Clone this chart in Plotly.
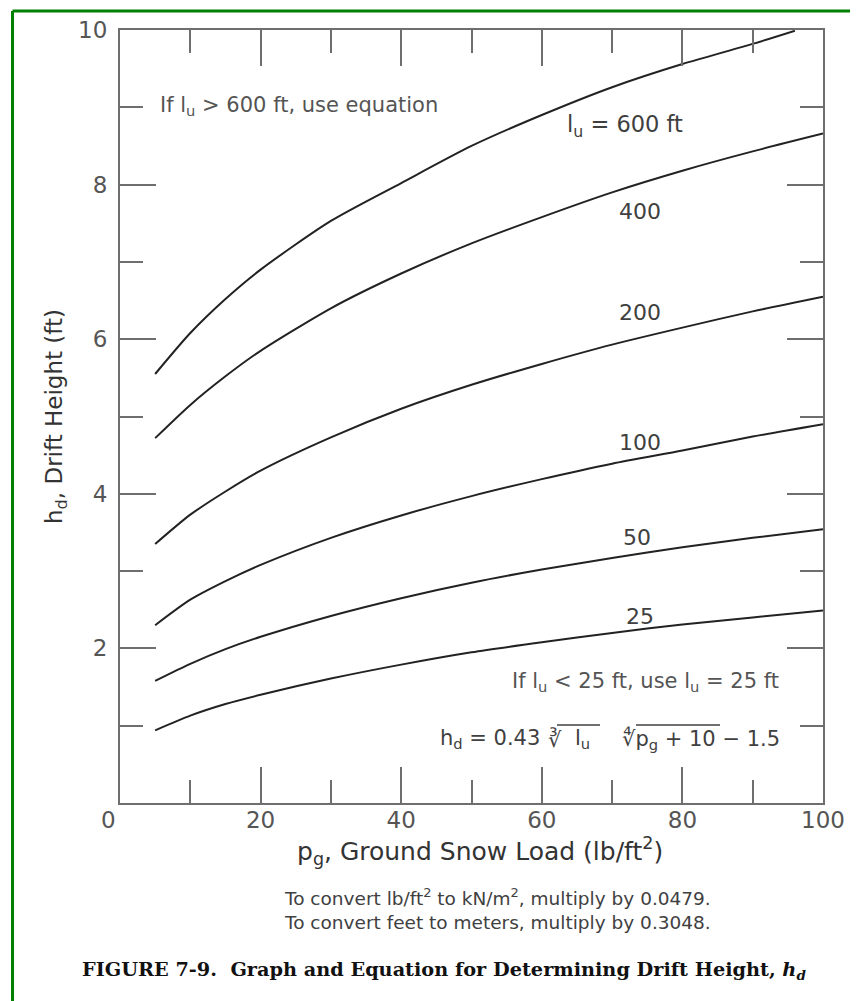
import plotly.graph_objects as go

# ---- data ----
pg = [5, 10, 15, 20, 30, 40, 50, 60, 70, 80, 90, 100]
pg_600 = [5, 10, 15, 20, 30, 40, 50, 60, 70, 80, 90, 96]
hd_600 = [5.55, 6.08, 6.52, 6.90, 7.53, 8.02, 8.50, 8.90, 9.26, 9.56, 9.82, 9.99]
hd_400 = [4.72, 5.15, 5.52, 5.85, 6.40, 6.85, 7.24, 7.58, 7.90, 8.18, 8.43, 8.66]
hd_200 = [3.35, 3.73, 4.03, 4.30, 4.73, 5.10, 5.41, 5.68, 5.93, 6.15, 6.36, 6.55]
hd_100 = [2.30, 2.63, 2.87, 3.08, 3.43, 3.72, 3.97, 4.19, 4.39, 4.56, 4.74, 4.90]
hd_50 = [1.58, 1.80, 1.99, 2.15, 2.42, 2.65, 2.85, 3.02, 3.17, 3.31, 3.43, 3.54]
hd_25 = [0.94, 1.13, 1.28, 1.40, 1.61, 1.79, 1.95, 2.08, 2.20, 2.31, 2.40, 2.49]

x_ticks = [0, 20, 40, 60, 80, 100]
x_ticktext = ["", "20", "40", "60", "80", "100"]
x_minor = [10, 30, 50, 70, 90]
y_ticks = [0, 2, 4, 6, 8, 10]
y_ticktext = ["", "2", "4", "6", "8", "10"]
y_minor = [1, 3, 5, 7, 9]

curve_labels = ["400", "200", "100", "50", "25"]
curve_label_x = [74, 74, 74, 73.5, 74]
curve_label_y = [7.65, 6.34, 4.66, 3.44, 2.41]

# page is offset by the 8px body margin: figure is drawn at (8, 8)
W, H = 850, 993
L, R, T, B = 112, 35, 22, 198
PW, PH = W - L - R, H - T - B


def px(x):  # page pixel -> paper x
    return (x - 8 - L) / PW


def py(y):  # page pixel -> paper y
    return (H - B - (y - 8)) / PH


SANS = "DejaVu Sans, Liberation Sans, Arial, sans-serif"
SERIF = "DejaVu Serif, Liberation Serif, Times New Roman, serif"
GRAY = "#555555"
DARK = "#404040"
AX = "#6e6e6e"
LINE = "#222222"

fig = go.Figure()
series = [(pg_600, hd_600), (pg, hd_400), (pg, hd_200), (pg, hd_100), (pg, hd_50), (pg, hd_25)]
for xs, ys in series:
    fig.add_trace(go.Scatter(x=xs, y=ys, mode="lines",
                             line=dict(color=LINE, width=2, shape="spline", smoothing=0.7),
                             showlegend=False, hoverinfo="skip"))

axis_common = dict(showgrid=False, zeroline=False, showline=True, linecolor=AX, linewidth=2,
                   mirror="allticks", ticks="inside", ticklen=36, tickwidth=2, tickcolor=AX,
                   tickfont=dict(family=SANS, size=23, color=GRAY), tickmode="array")

fig.update_xaxes(range=[0, 100], tickvals=x_ticks, ticktext=x_ticktext, ticklabelstandoff=-5,
                 minor=dict(tickvals=x_minor, ticks="inside", ticklen=23, tickwidth=2, tickcolor=AX),
                 **axis_common)
fig.update_yaxes(range=[0, 10], tickvals=y_ticks, ticktext=y_ticktext, ticklabelstandoff=6,
                 minor=dict(tickvals=y_minor, ticks="inside", ticklen=23, tickwidth=2, tickcolor=AX),
                 title=dict(text="h<sub>d</sub>, Drift Height (ft)",
                            font=dict(family=SANS, size=23, color="#333333"), standoff=9),
                 **axis_common)

ann = []


def note(text, x, y, size, color=DARK, xanchor="left", family=SANS):
    ann.append(dict(x=px(x), y=py(y), xref="paper", yref="paper", xanchor=xanchor, yanchor="middle",
                    text=text, showarrow=False, font=dict(family=family, size=size, color=color)))


# x axis title (slightly right of the plot centre, as in the reference)
note("p<sub>g</sub>, Ground Snow Load (lb/ft<sup>2</sup>)", 480, 851, 25, color="#333333", xanchor="center")
# "0" label at origin
note("0", 108, 820, 23, color=GRAY, xanchor="center")
# in-plot notes
note("If l<sub>u</sub> > 600 ft, use equation", 158, 106, 21, color=GRAY)
note("l<sub>u</sub> = 600 ft", 565, 126, 22.5)
for t, xv, yv in zip(curve_labels, curve_label_x, curve_label_y):
    ann.append(dict(x=xv, y=yv, xref="x", yref="y", text=t, showarrow=False,
                    font=dict(family=SANS, size=22, color=DARK)))
note("If l<sub>u</sub> < 25 ft, use l<sub>u</sub> = 25 ft", 781, 682, 21, color=GRAY, xanchor="right")
# equation pieces
EQ_Y = 739
note("h<sub>d</sub> = 0.43", 542, EQ_Y, 21, xanchor="right")
note("∛", 546, EQ_Y, 21)
note("l<sub>u</sub>", 573, EQ_Y, 21)
note("∜p<sub>g</sub> + 10 − 1.5", 782, EQ_Y, 21, xanchor="right")
# conversion notes
note("To convert lb/ft<sup>2</sup> to kN/m<sup>2</sup>, multiply by 0.0479.", 282, 897, 18.5)
note("To convert feet to meters, multiply by 0.3048.", 282, 922, 18.5)
# caption
note("<b>FIGURE 7-9.  Graph and Equation for Determining Drift Height, <i>h<sub>d</sub></i></b>",
     80, 970, 19.3, color="#111111", family=SERIF)

shapes = [
    # green frame (left and top edges)
    dict(type="line", xref="paper", yref="paper", x0=px(12.5), x1=px(870), y0=py(11), y1=py(11),
         line=dict(color="#008000", width=3)),
    dict(type="line", xref="paper", yref="paper", x0=px(12.5), x1=px(12.5), y0=py(11), y1=py(1010),
         line=dict(color="#008000", width=3)),
    # radical overlines in the equation
    dict(type="line", xref="paper", yref="paper", x0=px(557), x1=px(600), y0=py(725), y1=py(725),
         line=dict(color=DARK, width=1.5)),
    dict(type="line", xref="paper", yref="paper", x0=px(636), x1=px(720), y0=py(725), y1=py(725),
         line=dict(color=DARK, width=1.5)),
]

fig.update_layout(width=W, height=H, margin=dict(l=L, r=R, t=T, b=B, autoexpand=False),
                  plot_bgcolor="white", paper_bgcolor="white", annotations=ann, shapes=shapes,
                  showlegend=False)

fig.write_html("out.html")
